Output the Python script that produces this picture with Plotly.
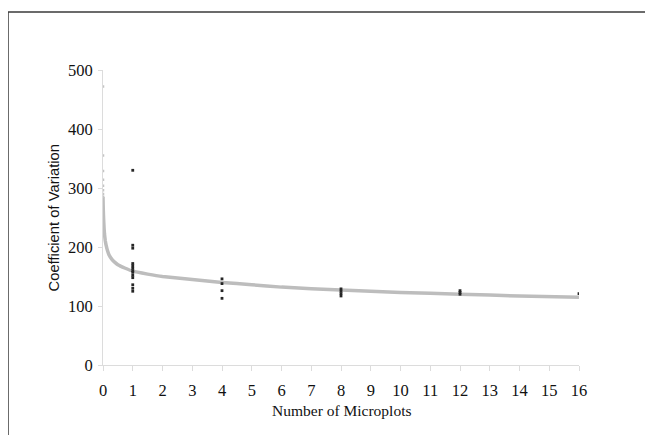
import plotly.graph_objects as go

# Observed CV values by number of microplots
obs_x = [1]*13 + [4]*4 + [8]*4 + [12]*3 + [16]
obs_y = [330, 203, 198, 172, 168, 164, 160, 157, 152, 148, 136, 130, 125,
         146, 138, 126, 113,
         129, 125, 121, 117,
         126, 123, 120,
         121]

# Trend line
trend_x = [0, 0.005, 0.01, 0.02, 0.035, 0.05, 0.075, 0.1, 0.15, 0.2, 0.3, 0.4, 0.5, 0.75,
           1, 1.5, 2, 3, 4, 5, 6, 8, 10, 12, 14, 16]
trend_y = [285, 272, 262, 248, 233, 222, 211, 204, 194, 187, 179, 174, 170, 164,
           159, 154, 150, 145, 140, 136, 132, 127, 123, 120, 117, 115]

# Trend points that pile up at x ~ 0
trend0_x = [0, 0, 0, 0, 0, 0, 0, 0]
trend0_y = [472, 355, 329, 314, 304, 296, 290, 285]

x_ticks = list(range(0, 17))
y_ticks = [0, 100, 200, 300, 400, 500]

# page body has an 8px margin, so the figure is offset by (8, 8)
OFF = 8
W, H = 653 - 2 * OFF, 445 - 2 * OFF - 2
L, T = 103 - OFF, 70 - OFF
R = W - (579 - OFF)
B = H - (365 - OFF)
pw, ph = W - L - R, H - T - B

def px(p):
    return (p - OFF - L) / pw

def py(p):
    return (H - B - (p - OFF)) / ph

fig = go.Figure()
fig.add_trace(go.Scatter(x=trend_x, y=trend_y, mode="lines",
                         line=dict(color="#bdbdbd", width=3.5, shape="spline", smoothing=0.3),
                         hoverinfo="skip", showlegend=False))
fig.add_trace(go.Scatter(x=trend0_x, y=trend0_y, mode="markers",
                         marker=dict(color="#c4c4c4", size=2.5, symbol="square"),
                         showlegend=False))
fig.add_trace(go.Scatter(x=obs_x, y=obs_y, mode="markers",
                         marker=dict(color="#262626", size=2.8, symbol="square"),
                         showlegend=False))

tickfont = dict(family="Liberation Serif, Times New Roman, serif", size=16.5, color="#111111")
border = dict(color="#3a3a3a", width=1.5)
fig.update_layout(
    width=W, height=H, autosize=False,
    margin=dict(l=L, r=R, t=T, b=B),
    paper_bgcolor="white", plot_bgcolor="white",
    xaxis=dict(range=[0, 16], tickvals=x_ticks, ticktext=[str(v) for v in x_ticks],
               showgrid=False, zeroline=False, showline=True, linecolor="#dcdcdc", linewidth=1,
               ticks="outside", ticklen=5, tickcolor="#dcdcdc", tickfont=tickfont,
               ticklabelstandoff=5),
    yaxis=dict(range=[0, 500], tickvals=y_ticks, ticktext=[str(v) for v in y_ticks],
               showgrid=False, zeroline=False, showline=True, linecolor="#dcdcdc", linewidth=1,
               ticks="outside", ticklen=4, tickcolor="#dcdcdc", tickfont=tickfont,
               ticklabelstandoff=2),
    annotations=[
        dict(text="Coefficient of Variation", xref="paper", yref="paper",
             x=px(53), y=0.5, xanchor="center", yanchor="middle", textangle=-90,
             showarrow=False, font=dict(family="Liberation Sans, Arial, sans-serif", size=14.8, color="#111111")),
        dict(text="Number of Microplots", xref="paper", yref="paper",
             x=0.5, y=py(410), xanchor="center", yanchor="middle",
             showarrow=False, font=dict(family="Liberation Serif, Times New Roman, serif", size=15.5, color="#111111")),
    ],
    shapes=[
        dict(type="line", xref="paper", yref="paper",
             x0=px(8), x1=px(8), y0=py(12), y1=py(445), line=border),
        dict(type="line", xref="paper", yref="paper",
             x0=px(8), x1=px(653), y0=py(12), y1=py(12), line=border),
    ],
)

fig.write_html("out.html", config={"displayModeBar": False})
